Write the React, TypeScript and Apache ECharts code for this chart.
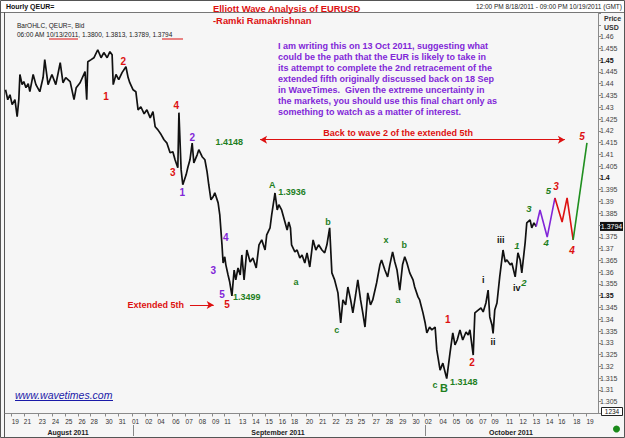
import React, { useEffect, useRef } from "react";
import * as echarts from "echarts";

// ---- axis categories: trading hours (GMT), weekends removed ----
const tradingDays: [string, number, number][] = [
  ["08/18", 12, 23], ["08/19", 0, 21], ["08/21", 21, 23], ["08/22", 0, 23], ["08/23", 0, 23],
  ["08/24", 0, 23], ["08/25", 0, 23], ["08/26", 0, 21], ["08/28", 21, 23], ["08/29", 0, 23],
  ["08/30", 0, 23], ["08/31", 0, 23], ["09/01", 0, 23], ["09/02", 0, 21], ["09/04", 21, 23],
  ["09/05", 0, 23], ["09/06", 0, 23], ["09/07", 0, 23], ["09/08", 0, 23], ["09/09", 0, 21],
  ["09/11", 21, 23], ["09/12", 0, 23], ["09/13", 0, 23], ["09/14", 0, 23], ["09/15", 0, 23],
  ["09/16", 0, 21], ["09/18", 21, 23], ["09/19", 0, 23], ["09/20", 0, 23], ["09/21", 0, 23],
  ["09/22", 0, 23], ["09/23", 0, 21], ["09/25", 21, 23], ["09/26", 0, 23], ["09/27", 0, 23],
  ["09/28", 0, 23], ["09/29", 0, 23], ["09/30", 0, 21], ["10/02", 21, 23], ["10/03", 0, 23],
  ["10/04", 0, 23], ["10/05", 0, 23], ["10/06", 0, 23], ["10/07", 0, 21], ["10/09", 21, 23],
  ["10/10", 0, 23], ["10/11", 0, 23], ["10/12", 0, 23], ["10/13", 0, 23], ["10/14", 0, 21],
  ["10/16", 21, 23], ["10/17", 0, 23], ["10/18", 0, 23], ["10/19", 0, 21],
];

const labelDays = [
  "08/19", "08/21", "08/23", "08/24", "08/25", "08/26", "08/28", "08/30", "08/31", "09/01",
  "09/02", "09/04", "09/06", "09/07", "09/08", "09/09", "09/11", "09/13", "09/14", "09/15",
  "09/16", "09/18", "09/20", "09/21", "09/22", "09/23", "09/25", "09/27", "09/28", "09/29",
  "09/30", "10/02", "10/04", "10/05", "10/06", "10/07", "10/09", "10/11", "10/12", "10/13",
  "10/14", "10/16", "10/18", "10/19",
];

// ---- EUR/USD hourly path ----
const priceTimes = [
  "08/18 13", "08/18 17", "08/18 21", "08/19 01", "08/19 06", "08/19 10", "08/19 13", "08/19 15", "08/19 19", "08/21 21",
  "08/22 01", "08/22 05", "08/22 08", "08/22 14", "08/22 19", "08/23 02", "08/23 08", "08/23 11", "08/23 17", "08/24 00",
  "08/24 07", "08/24 15", "08/24 20", "08/25 01", "08/25 09", "08/25 16", "08/25 20", "08/26 03", "08/26 12", "08/26 15",
  "08/26 17", "08/28 22", "08/29 03", "08/29 10", "08/29 16", "08/29 21", "08/30 03", "08/30 08", "08/30 12", "08/30 14",
  "08/30 19", "08/31 00", "08/31 06", "08/31 13", "08/31 17", "08/31 20", "09/01 02", "09/01 07", "09/01 11", "09/01 16",
  "09/01 22", "09/02 03", "09/02 09", "09/02 14", "09/02 18", "09/04 22", "09/05 04", "09/05 09", "09/05 14", "09/05 20",
  "09/06 01", "09/06 05", "09/06 10", "09/06 12", "09/06 16", "09/06 19", "09/07 01", "09/07 04", "09/07 08", "09/07 12",
  "09/07 15", "09/07 21", "09/08 00", "09/08 06", "09/08 11", "09/08 15", "09/08 18", "09/08 22", "09/09 02", "09/09 05",
  "09/09 11", "09/09 14", "09/09 18", "09/09 20", "09/11 22", "09/12 00", "09/12 04", "09/12 07", "09/12 11", "09/12 15",
  "09/12 18", "09/12 22", "09/13 02", "09/13 05", "09/13 09", "09/13 14", "09/13 20", "09/14 01", "09/14 07", "09/14 12",
  "09/14 17", "09/14 23", "09/15 02", "09/15 08", "09/15 11", "09/15 17", "09/15 21", "09/16 00", "09/16 05", "09/16 11",
  "09/16 15", "09/16 18", "09/16 21", "09/18 22", "09/19 04", "09/19 08", "09/19 13", "09/19 17", "09/19 22", "09/20 02",
  "09/20 07", "09/20 13", "09/20 18", "09/20 23", "09/21 05", "09/21 10", "09/21 14", "09/21 19", "09/21 23", "09/22 04",
  "09/22 10", "09/22 15", "09/22 19", "09/23 00", "09/23 04", "09/23 09", "09/23 13", "09/23 18", "09/25 21", "09/26 02",
  "09/26 06", "09/26 10", "09/26 15", "09/26 20", "09/27 00", "09/27 07", "09/27 13", "09/27 16", "09/27 22", "09/28 03",
  "09/28 07", "09/28 12", "09/28 16", "09/28 20", "09/29 01", "09/29 06", "09/29 10", "09/29 14", "09/29 19", "09/30 01",
  "09/30 04", "09/30 10", "09/30 13", "09/30 19", "10/02 22", "10/03 01", "10/03 06", "10/03 10", "10/03 16", "10/03 19",
  "10/04 01", "10/04 06", "10/04 10", "10/04 13", "10/04 19", "10/05 00", "10/05 04", "10/05 08", "10/05 13", "10/05 18",
  "10/06 00", "10/06 04", "10/06 07", "10/06 13", "10/06 16", "10/06 22", "10/07 03", "10/07 07", "10/07 12", "10/07 16",
  "10/07 19", "10/09 22", "10/10 00", "10/10 03", "10/10 07", "10/10 12", "10/10 18", "10/10 22", "10/11 01", "10/11 07",
  "10/11 10", "10/11 16", "10/11 21", "10/12 01", "10/12 04", "10/12 10", "10/12 13", "10/12 19", "10/12 22", "10/13 02",
  "10/13 06",
];
const priceValues = [
  1.4374, 1.4332, 1.4353, 1.4311, 1.4332, 1.4260, 1.4332, 1.4439, 1.4396, 1.4409,
  1.4383, 1.4400, 1.4366, 1.4439, 1.4396, 1.4366, 1.4426, 1.4502, 1.4396, 1.4439,
  1.4396, 1.4489, 1.4404, 1.4426, 1.4409, 1.4332, 1.4383, 1.4404, 1.4451, 1.4332,
  1.4493, 1.4502, 1.4510, 1.4544, 1.4510, 1.4532, 1.4510, 1.4536, 1.4523, 1.4396,
  1.4439, 1.4417, 1.4447, 1.4472, 1.4426, 1.4404, 1.4374, 1.4366, 1.4289, 1.4302,
  1.4272, 1.4289, 1.4255, 1.4281, 1.4217, 1.4204, 1.4183, 1.4162, 1.4149, 1.4107,
  1.4111, 1.4077, 1.4043, 1.4277, 1.4034, 1.3971, 1.4013, 1.4043, 1.4077, 1.4148,
  1.4064, 1.4098, 1.4120, 1.4090, 1.4077, 1.4026, 1.3971, 1.3907, 1.3920, 1.3937,
  1.3894, 1.3843, 1.3716, 1.3639, 1.3665, 1.3631, 1.3588, 1.3558, 1.3499, 1.3609,
  1.3567, 1.3618, 1.3588, 1.3673, 1.3567, 1.3694, 1.3643, 1.3660, 1.3618, 1.3716,
  1.3737, 1.3694, 1.3758, 1.3788, 1.3843, 1.3936, 1.3864, 1.3886, 1.3864, 1.3813,
  1.3779, 1.3813, 1.3788, 1.3716, 1.3686, 1.3694, 1.3660, 1.3673, 1.3639, 1.3682,
  1.3622, 1.3737, 1.3694, 1.3716, 1.3694, 1.3682, 1.3716, 1.3788, 1.3597, 1.3567,
  1.3512, 1.3384, 1.3482, 1.3461, 1.3537, 1.3482, 1.3427, 1.3503, 1.3567, 1.3482,
  1.3427, 1.3367, 1.3512, 1.3461, 1.3482, 1.3554, 1.3631, 1.3652, 1.3609, 1.3580,
  1.3631, 1.3686, 1.3643, 1.3609, 1.3524, 1.3631, 1.3665, 1.3639, 1.3597, 1.3567,
  1.3537, 1.3495, 1.3482, 1.3427, 1.3384, 1.3342, 1.3367, 1.3355, 1.3367, 1.3270,
  1.3184, 1.3214, 1.3176, 1.3148, 1.3257, 1.3342, 1.3291, 1.3312, 1.3355, 1.3312,
  1.3346, 1.3333, 1.3355, 1.3248, 1.3427, 1.3439, 1.3448, 1.3431, 1.3469, 1.3524,
  1.3410, 1.3376, 1.3340, 1.3439, 1.3469, 1.3580, 1.3694, 1.3643, 1.3652, 1.3631,
  1.3639, 1.3580, 1.3682, 1.3652, 1.3597, 1.3724, 1.3809, 1.3822, 1.3788, 1.3809,
  1.3794,
];

// ---- projected paths ----
const purplePath: [string, number][] = [["10/13 06", 1.3794], ["10/13 13", 1.3864], ["10/14 02", 1.3749], ["10/14 16", 1.3915]];
const redPath: [string, number][] = [["10/14 16", 1.3915], ["10/17 04", 1.3813], ["10/17 13", 1.3915], ["10/18 00", 1.3737]];
const greenPath: [string, number][] = [["10/18 00", 1.3737], ["10/19 01", 1.4149]];

// ---- wave labels [text, time, price] ----
const redLabels: [string, string, number][] = [
  ["1", "08/30 01", 1.4345], ["2", "08/31 08", 1.4493], ["3", "09/06 01", 1.4022], ["4", "09/06 07", 1.4306],
  ["5", "09/12 02", 1.3461], ["1", "10/04 15", 1.3397], ["2", "10/06 11", 1.3218],
];
const redItalicLabels: [string, string, number][] = [["3", "10/14 18", 1.3962], ["4", "10/17 22", 1.3694], ["5", "10/18 16", 1.4175]];
const purpleLabels: [string, string, number][] = [
  ["1", "09/06 18", 1.3937], ["2", "09/07 12", 1.4170], ["3", "09/09 02", 1.3609], ["4", "09/12 00", 1.3745], ["5", "09/09 18", 1.3503],
];
const greenLabels: [string, string, number][] = [
  ["1.4148", "09/12 06", 1.4153], ["A", "09/15 12", 1.3971], ["1.3936", "09/18 23", 1.3941], ["b", "09/21 16", 1.3813],
  ["a", "09/19 06", 1.3558], ["c", "09/22 08", 1.3354], ["x", "09/28 00", 1.3737], ["b", "09/29 09", 1.3716],
  ["a", "09/28 22", 1.3482], ["c", "10/03 16", 1.3121], ["1.3148", "10/05 20", 1.3133], ["1.3499", "09/13 14", 1.3495],
];
const greenBigLabels: [string, string, number][] = [["B", "10/04 08", 1.3108]];
const greenItalicLabels: [string, string, number][] = [
  ["1", "10/11 19", 1.3711], ["2", "10/12 08", 1.3558], ["3", "10/12 17", 1.3869], ["4", "10/14 00", 1.3724], ["5", "10/14 04", 1.3945],
];
const blackLabels: [string, string, number][] = [["i", "10/07 07", 1.3567], ["ii", "10/10 00", 1.3303], ["iii", "10/10 14", 1.3737], ["iv", "10/11 19", 1.3533]];
const noteLabels: [string, string, number][] = [["Back to wave 2 of the extended 5th", "09/28 22", 1.4192], ["Extended 5th", "09/02 19", 1.3461]];
const backArrow: [string, string, number] = ["09/14 14", "10/17 09", 1.4162];
const extArrow: [string, string, number] = ["09/07 08", "09/09 03", 1.3461];

const lastPrice = 1.3794;
const paragraph = [
  "I am writing this on 13 Oct 2011, suggesting what",
  "could be the path that the EUR is likely to take in",
  "its attempt to complete the 2nd retracement of the",
  "extended fifth originally discussed back on 18 Sep",
  "in WaveTimes.  Given the extreme uncertainty in",
  "the markets, you should use this final chart only as",
  "something to watch as a matter of interest.",
];

const RED = "#dd1111";
const PURPLE = "#8126d8";
const GREEN = "#1f7f1f";
const FONT = "Liberation Sans, Arial, sans-serif";

export default function App() {
  const ref = useRef<HTMLDivElement>(null);
  useEffect(() => {
    if (!ref.current) return;
    const chart = echarts.init(ref.current, undefined, { renderer: "svg" });

    const categories: string[] = [];
    const dayStart: Record<string, number> = {};
    tradingDays.forEach(([d, h0, h1]) => {
      dayStart[d] = categories.length;
      for (let h = h0; h <= h1; h++) categories.push(`${d} ${String(h).padStart(2, "0")}`);
    });
    const labelIdx = new Set(labelDays.map((d) => dayStart[d]));

    const lbl = (arr: [string, string, number][], color: string, extra: any = {}) =>
      arr.map(([text, t, p]) => ({
        value: [t, p],
        label: {
          show: true,
          formatter: text,
          color,
          opacity: 1,
          textBorderWidth: 0,
          fontWeight: "bold",
          fontSize: 10,
          fontFamily: FONT,
          ...extra,
        },
      }));

    const annotations = [
      ...lbl(redLabels, RED),
      ...lbl(redItalicLabels, RED, { fontStyle: "italic" }),
      ...lbl(purpleLabels, PURPLE),
      ...lbl(greenLabels, GREEN, { fontSize: 9 }),
      ...lbl(greenBigLabels, GREEN, { fontSize: 11 }),
      ...lbl(greenItalicLabels, GREEN, { fontStyle: "italic", fontSize: 9.5 }),
      ...lbl(blackLabels, "#111", { fontSize: 9 }),
      ...lbl(noteLabels, RED, { fontSize: 9 }),
    ];

    const option: any = {
      animation: false,
      backgroundColor: "#f6f6f6",
      grid: { left: 5, right: 27, top: 13, bottom: 24.5 },
      xAxis: {
        type: "category",
        data: categories,
        boundaryGap: false,
        axisLine: { lineStyle: { color: "#8a8a8a" } },
        axisTick: { interval: (i: number) => labelIdx.has(i), length: 3, lineStyle: { color: "#8a8a8a" } },
        axisLabel: {
          interval: (i: number) => labelIdx.has(i),
          formatter: (v: string) => v.slice(3, 5),
          align: "left",
          margin: 4,
          fontSize: 6.5,
          color: "#333",
          fontFamily: FONT,
        },
        splitLine: { show: false },
      },
      yAxis: {
        type: "value",
        position: "right",
        min: 1.3,
        max: 1.47,
        interval: 0.005,
        scale: true,
        axisLine: { show: true, lineStyle: { color: "#8a8a8a" } },
        axisTick: { show: true, length: 3, lineStyle: { color: "#8a8a8a" } },
        splitLine: { show: false },
        axisLabel: {
          margin: 2,
          fontSize: 7,
          color: "#444",
          fontFamily: FONT,
          formatter: (v: number) => {
            const r = Math.round(v * 1000);
            if (r === 1300 || r >= 1465 || r === 1380) return "";
            const s = String(r / 1000);
            return r % 50 === 0 ? `{b|${s}}` : s;
          },
          rich: { b: { fontWeight: "bold", color: "#111", fontSize: 7, fontFamily: FONT } },
        },
      },
      series: [
        {
          type: "line",
          data: priceTimes.map((t, i) => [t, priceValues[i]]),
          symbol: "none",
          lineStyle: { color: "#111", width: 1.7 },
          silent: true,
        },
        { type: "line", data: purplePath, symbol: "none", lineStyle: { color: PURPLE, width: 1.6 }, silent: true },
        {
          type: "line",
          data: redPath,
          symbol: "none",
          lineStyle: { color: RED, width: 1.6 },
          silent: true,
          markLine: {
            silent: true,
            symbol: ["arrow", "arrow"],
            symbolSize: [6, 7],
            lineStyle: { color: RED, width: 1, type: "solid" },
            label: { show: false },
            data: [
              [{ coord: [backArrow[0], backArrow[2]] }, { coord: [backArrow[1], backArrow[2]] }],
              [{ coord: [extArrow[0], extArrow[2]], symbol: "none" }, { coord: [extArrow[1], extArrow[2]] }],
            ],
          },
        },
        { type: "line", data: greenPath, symbol: "none", lineStyle: { color: "#1f8f1f", width: 1.6 }, silent: true },
        {
          type: "scatter",
          data: annotations,
          symbolSize: 1,
          itemStyle: { color: "rgba(0,0,0,0)", opacity: 1 },
          label: { show: true, position: "inside" },
          emphasis: { disabled: true },
          silent: true,
        },
      ],
    };
    chart.setOption(option);

    const yLast = chart.convertToPixel({ yAxisIndex: 0 }, lastPrice) as number;
    const txt = (x: number, y: number, text: string, style: any = {}) => ({
      type: "text",
      x,
      y,
      silent: true,
      style: {
        text,
        fill: "#222",
        fontSize: 7,
        fontFamily: FONT,
        textAlign: style.align || "left",
        align: style.align || "left",
        textVerticalAlign: "middle",
        verticalAlign: "middle",
        ...style,
      },
    });

    chart.setOption({
      graphic: [
        { type: "rect", shape: { x: 0, y: 0, width: 625, height: 12 }, style: { fill: "#ffffff" }, silent: true },
        { type: "line", shape: { x1: 0, y1: 12.5, x2: 625, y2: 12.5 }, style: { stroke: "#777", lineWidth: 1 }, silent: true },
        { type: "rect", shape: { x: 0.5, y: 0.5, width: 624, height: 437 }, style: { fill: "none", stroke: "#555", lineWidth: 1 }, silent: true },
        { type: "line", shape: { x1: 4.5, y1: 12, x2: 4.5, y2: 438 }, style: { stroke: "#555", lineWidth: 1 }, silent: true },
        txt(6, 6, "Hourly QEUR=", { fontWeight: "bold", fill: "#111" }),
        txt(622, 6, "12:00 PM 8/18/2011 - 09:00 PM 10/19/2011 (GMT)", { align: "right", fontSize: 6.5 }),
        txt(213, 8, "Elliott Wave Analysis of EURUSD", { fontWeight: "bold", fontSize: 9.4, fill: RED }),
        txt(213, 20, "-Ramki Ramakrishnan", { fontWeight: "bold", fontSize: 9.4, fill: RED }),
        txt(17, 25, "BarOHLC, QEUR=, Bid", { fontSize: 6.5 }),
        txt(17, 34, "06:00 AM 10/13/2011, 1.3800, 1.3813, 1.3789, 1.3794", { fontSize: 6.5 }),
        { type: "line", shape: { x1: 49, y1: 39, x2: 78, y2: 39 }, style: { stroke: RED, lineWidth: 1 }, silent: true },
        { type: "line", shape: { x1: 162, y1: 39, x2: 183, y2: 39 }, style: { stroke: RED, lineWidth: 1 }, silent: true },
        {
          type: "text",
          x: 278,
          y: 40,
          silent: true,
          style: { text: paragraph.join("\n"), fill: PURPLE, fontSize: 9, fontWeight: "bold", fontFamily: FONT, lineHeight: 11 },
        },
        txt(604, 18, "Price", { fontWeight: "bold", fontSize: 7, fill: "#333" }),
        txt(604, 27, "USD", { fontWeight: "bold", fontSize: 7, fill: "#333" }),
        { type: "rect", shape: { x: 600, y: yLast - 4.5, width: 23, height: 9 }, style: { fill: "#111" }, silent: true },
        txt(611.5, yLast, String(lastPrice), { align: "center", fill: "#fff", fontSize: 7 }),
        { type: "rect", shape: { x: 601.5, y: 407.5, width: 21, height: 8 }, style: { fill: "#fff", stroke: "#222", lineWidth: 1 }, silent: true },
        txt(612, 411.5, "1234", { align: "center", fontSize: 6.5, fill: "#111" }),
        { type: "circle", shape: { cx: 616.5, cy: 429, r: 3.5 }, style: { fill: "#1a8a1a" }, silent: true },
        txt(68, 432, "August 2011", { align: "center", fontWeight: "bold", fontSize: 7 }),
        txt(278, 432, "September 2011", { align: "center", fontWeight: "bold", fontSize: 7 }),
        txt(511, 432, "October 2011", { align: "center", fontWeight: "bold", fontSize: 7 }),
        { type: "line", shape: { x1: 133.5, y1: 425, x2: 133.5, y2: 436 }, style: { stroke: "#888", lineWidth: 1 }, silent: true },
        { type: "line", shape: { x1: 425.5, y1: 425, x2: 425.5, y2: 436 }, style: { stroke: "#888", lineWidth: 1 }, silent: true },
        txt(15, 395, "www.wavetimes.com", { fontSize: 10.5, fontStyle: "italic", fill: "#1a1aa8" }),
        { type: "line", shape: { x1: 15, y1: 400.5, x2: 113, y2: 400.5 }, style: { stroke: "#1a1aa8", lineWidth: 1 }, silent: true },
      ],
    });

    return () => chart.dispose();
  }, []);
  return <div ref={ref} style={{ position: "absolute", left: 0, top: 0, width: 625, height: 438 }} />;
}
